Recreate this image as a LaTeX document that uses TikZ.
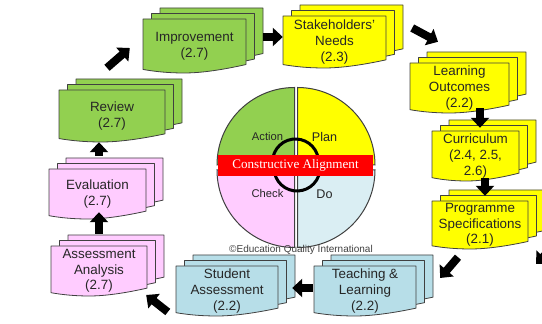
\documentclass[tikz,border=0pt]{standalone}
\usepackage{fontspec}
\setmainfont{Liberation Sans}
\newfontfamily\eqiserif{Liberation Serif}
\usepackage{tikz}
\usetikzlibrary{arrows.meta, positioning}
\definecolor{eqiGreen}{HTML}{92D050}
\definecolor{eqiYellow}{HTML}{FFFF00}
\definecolor{eqiPink}{HTML}{FFCCFF}
\definecolor{eqiTeal}{HTML}{B7DEE8}
\definecolor{eqiPale}{HTML}{DAEEF3}
\definecolor{eqiRed}{HTML}{FF0000}
\definecolor{eqiLine}{HTML}{404040}
\tikzset{
  eqi/sheet/.style  = {draw=eqiLine, line width=0.8pt, line join=round},
  eqi/text/.style   = {inner sep=0pt, align=center, text=black!85,
                       font=\fontsize{13.4}{15.6}\selectfont},
  eqi/arrow/.style  = {-{Triangle[length=10pt,width=18pt]}, line width=8pt, draw=black},
  eqi/quad/.style   = {draw=eqiLine, line width=1pt},
  eqi/band/.style   = {fill=eqiRed, text=white, minimum width=155pt, minimum height=21pt,
                       inner sep=0pt, font=\eqiserif\fontsize{13.1}{15}\selectfont},
  eqi/pdca/.style   = {inner sep=0pt, text=black!85, font=\fontsize{11.2}{13}\selectfont},
  eqi/pdcabig/.style= {eqi/pdca, font=\fontsize{12.6}{14}\selectfont},
  eqi/loop/.style   = {line width=3pt, draw=black},
  eqi/credit/.style = {inner sep=0pt, text=black!75, font=\fontsize{10}{12}\selectfont},
}
% one sheet with a wavy bottom: x, top, width, height, colour
\newcommand{\docsheet}[5]{%
  \filldraw[eqi/sheet, fill=#5] ({#1},{#2}) -- ++(#3,0) -- ++(0,{-0.843*#4})
    .. controls ({#1+0.8*#3},{#2-0.93*#4}) and ({#1+0.58*#3},{#2-#4}) .. ({#1+0.4*#3},{#2-#4})
    .. controls ({#1+0.25*#3},{#2-#4}) and ({#1+0.12*#3},{#2-0.975*#4}) .. ({#1},{#2-0.934*#4})
    -- cycle;}
% stack of three sheets: name, x, top, width, height, colour, text
\newcommand{\docstack}[7]{%
  \docsheet{#2+17}{#3+11}{#4}{#5}{#6}
  \docsheet{#2+8.5}{#3+5.5}{#4}{#5}{#6}
  \docsheet{#2}{#3}{#4}{#5}{#6}
  \node[eqi/text, minimum width=#4pt, minimum height=#5pt] (#1)
        at ({#2+0.5*#4},{#3-0.5*#5}) {#7};}

\begin{document}
\begin{tikzpicture}[x=1pt, y=1pt]
  \useasboundingbox (0,0) rectangle (542,324);
  \clip (0,0) rectangle (542,324);
  % PDCA circle
  \filldraw[eqi/quad, fill=eqiGreen]  (294.5,159) -- ++(180:77.5) arc (180:90:77.5) -- cycle;
  \filldraw[eqi/quad, fill=eqiYellow] (297.5,159) -- ++(90:77.5) arc (90:0:77.5) -- cycle;
  \filldraw[eqi/quad, fill=eqiPink]   (294.5,154) -- ++(180:77.5) arc (180:270:77.5) -- cycle;
  \filldraw[eqi/quad, fill=eqiPale]   (297.5,154) -- ++(270:77.5) arc (270:360:77.5) -- cycle;
  \draw[eqi/loop] ([shift={(200:23)}]295.5,162) arc (200:-20:23);
  \draw[eqi/loop] ([shift={(160:23)}]297,156) arc (160:380:23);
  \node[eqi/band] (align) at (295.5,158.5) {Constructive Alignment};
  \node[eqi/pdca]    (act)   at (267.5,187) {Action};
  \node[eqi/pdcabig] (plan)  at (324.5,187) {Plan};
  \node[eqi/pdca]    (check) at (267.5,130) {Check};
  \node[eqi/pdcabig] (do)    at (324.5,130) {Do};
  \node[eqi/credit]  (credit) at (301,74) {\textcopyright Education Quality International};
  % stages
  \docstack{imp}{143}{305}{103}{54}{eqiGreen}{Improvement\\(2.7)}
  \docstack{stk}{283}{308}{103}{52}{eqiYellow}{Stakeholders'\\Needs\\(2.3)}
  \docstack{lo}{410}{261}{99}{50}{eqiYellow}{Learning\\Outcomes\\(2.2)}
  \docstack{cur}{432}{193}{87}{50}{eqiYellow}{Curriculum\\(2.4, 2.5,\\2.6)}
  \docstack{prog}{432}{123}{96}{48}{eqiYellow}{Programme\\Specifications\\(2.1)}
  \docstack{tl}{314}{58}{102}{50}{eqiTeal}{Teaching \&\\Learning\\(2.2)}
  \docstack{sa}{176}{58}{102}{50}{eqiTeal}{Student\\Assessment\\(2.2)}
  \docstack{aa}{51}{78}{96}{50}{eqiPink}{Assessment\\Analysis\\(2.7)}
  \docstack{ev}{49}{155}{97}{50}{eqiPink}{Evaluation\\(2.7)}
  \docstack{rev}{59}{234}{106}{52}{eqiGreen}{Review\\(2.7)}
  % arrows
  \draw[eqi/arrow] ([shift={(-5,22)}]rev.north) -- ([shift={(-13,-2)}]imp.west);
  \draw[eqi/arrow] ([shift={(17,9)}]imp.east) -- ([shift={(0,5)}]stk.west);
  \draw[eqi/arrow] ([shift={(26,14)}]stk.east) -- ([shift={(-21.5,21)}]lo.north);
  \draw[eqi/arrow] ([shift={(20.5,5)}]lo.south) -- ([shift={(4.5,3)}]cur.north);
  \draw[eqi/arrow] ([shift={(9.5,3)}]cur.south) -- ([shift={(5,5)}]prog.north);
  \draw[eqi/arrow] ([shift={(-22,-8)}]prog.south) -- ([shift={(24,13)}]tl.east);
  \draw[eqi/arrow] ([shift={(-1,3)}]tl.west) -- ([shift={(14,3)}]sa.east);
  \draw[eqi/arrow] ([shift={(-8,-21)}]sa.west) -- ([shift={(-1,-24)}]aa.east);
  \draw[eqi/arrow] ([shift={(0,12)}]aa.north) -- ([shift={(1.5,7)}]ev.south);
  \draw[eqi/arrow] ([shift={(1.5,13)}]ev.north) -- ([shift={(-13,0)}]rev.south);
  \coordinate (edgeTail) at (560,84);
  \coordinate (edgeTip)  at (536,60);
  \draw[eqi/arrow] (edgeTail) -- (edgeTip);
\end{tikzpicture}
\end{document}
